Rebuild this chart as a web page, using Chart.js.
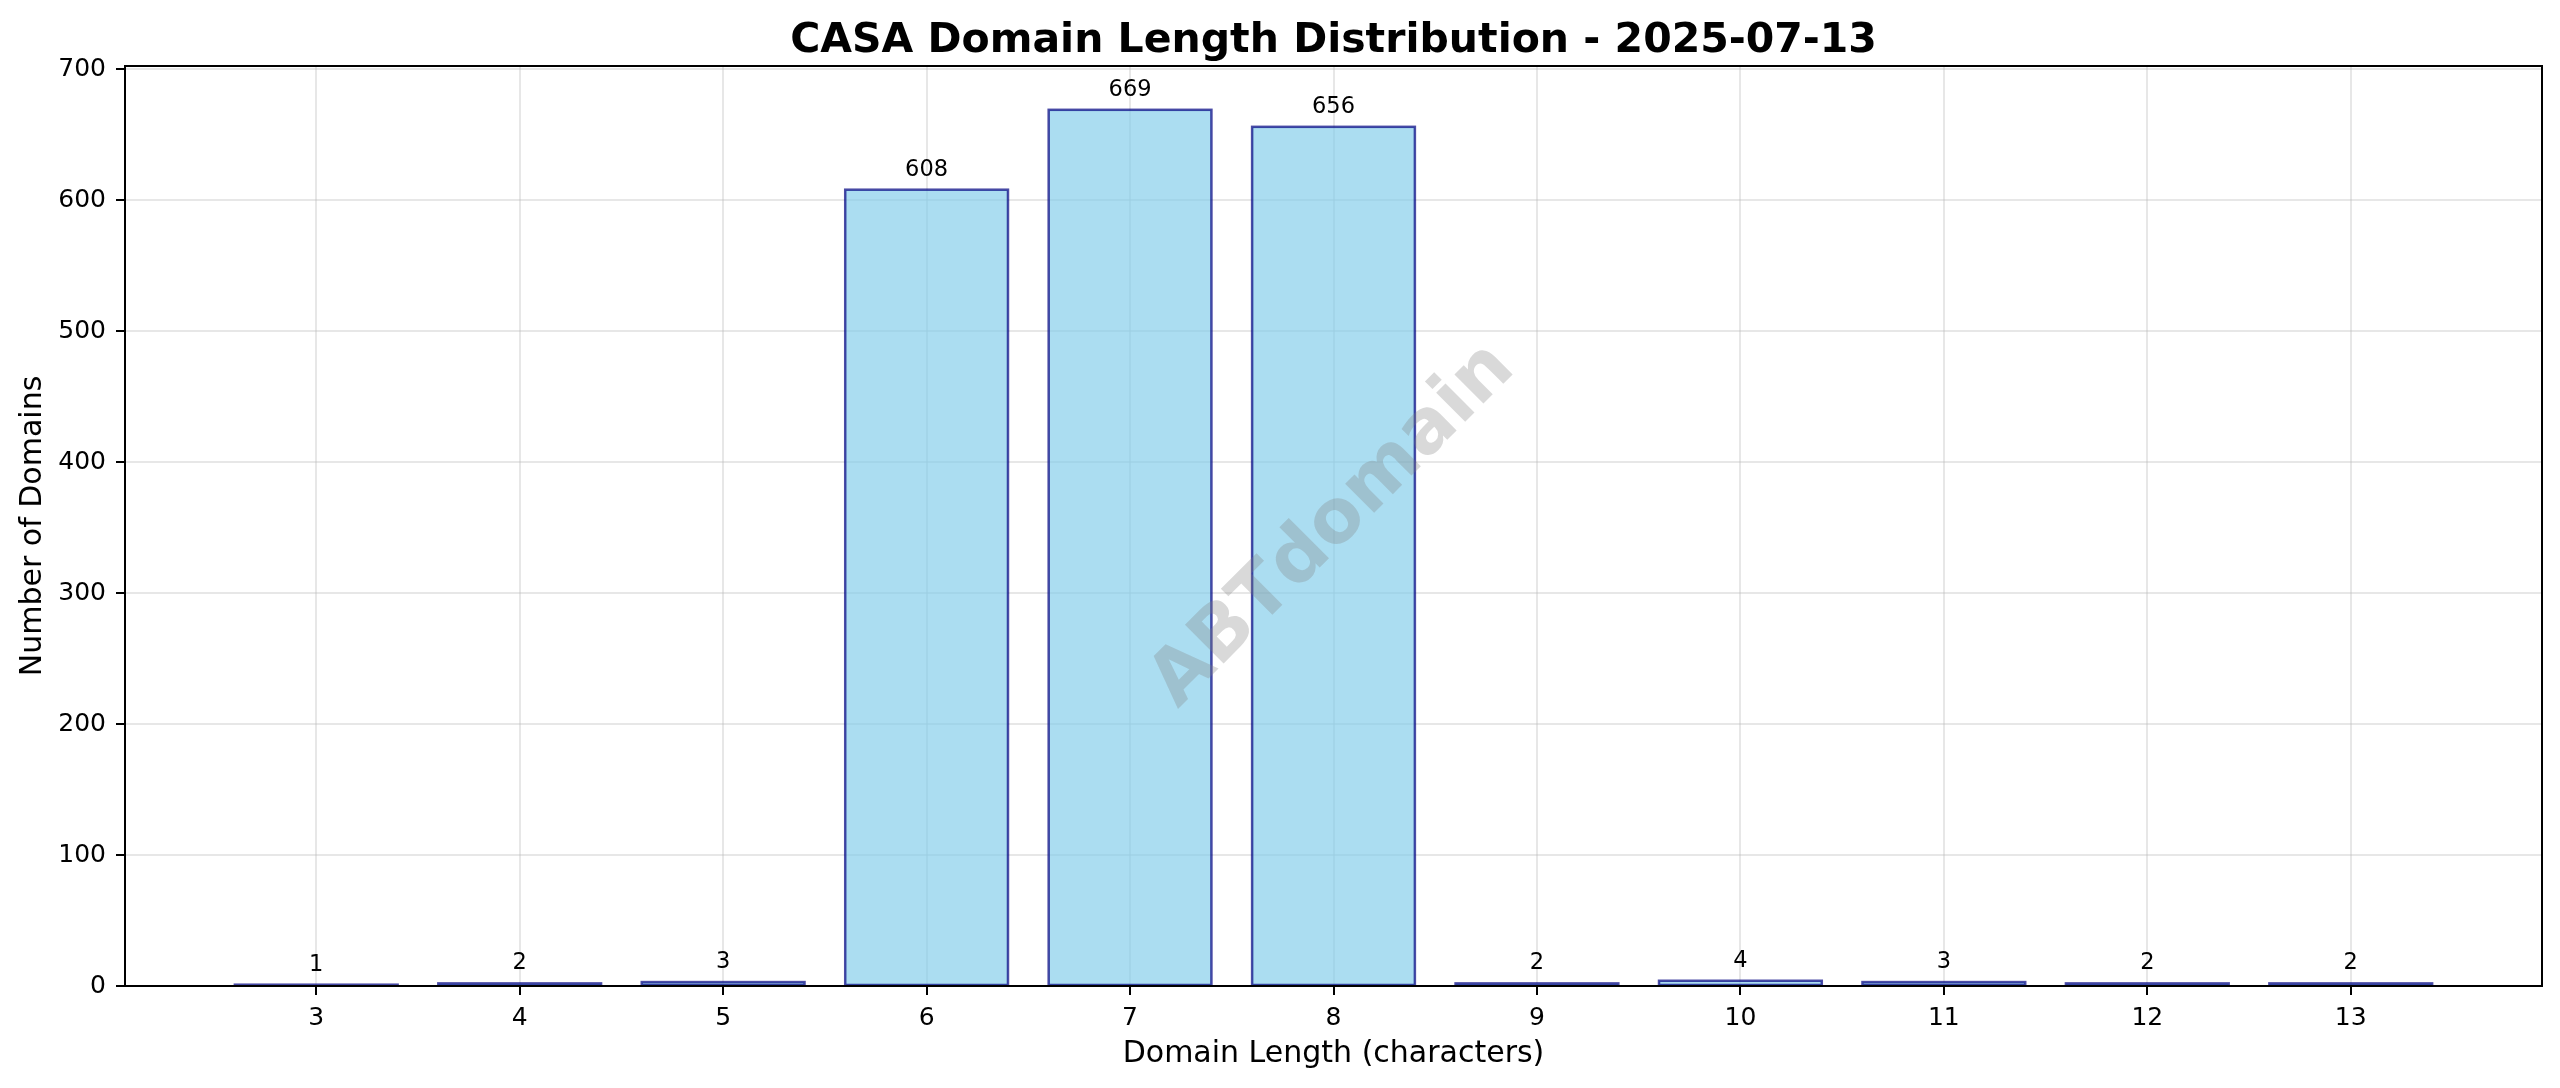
<!DOCTYPE html>
<html>
<head>
<meta charset="utf-8">
<title>CASA Domain Length Distribution</title>
<script src="https://cdn.jsdelivr.net/npm/chart.js@4.4.1/dist/chart.umd.min.js"></script>
<style>
  html, body { margin: 0; padding: 0; background: #fff; }
  #grafico { display: block; }
</style>
</head>
<body>
<canvas id="grafico" width="2560" height="1088"></canvas>
<script>
// datos
const longitudes = [3, 4, 5, 6, 7, 8, 9, 10, 11, 12, 13];
const dominios = [1, 2, 3, 608, 669, 656, 2, 4, 3, 2, 2];
const ticksY = [0, 100, 200, 300, 400, 500, 600, 700];
const titulo = 'CASA Domain Length Distribution - 2025-07-13';
const marcaAgua = 'ABTdomain';

// limites de ejes (margen 5% como matplotlib)
const limX = [2.06, 13.94];
const maxY = Math.max(...dominios) * 1.05;

const fuente = '"DejaVu Sans", sans-serif';
Chart.defaults.font.family = fuente;
Chart.defaults.color = '#000';

const colorGrid = 'rgba(176,176,176,0.3)';

// contornos, etiquetas de valor, marca de agua, marco y titulo
const extras = {
    id: 'extras',
    afterDatasetsDraw(chart) {
        const ctx = chart.ctx;
        const area = chart.chartArea;
        const meta = chart.getDatasetMeta(0);
        const y = chart.scales.y;
        const salto = Math.max(...dominios) * 0.01;
        const centroX = (area.left + area.right) / 2;

        ctx.save();
        // borde de cada barra centrado en el contorno
        ctx.lineWidth = 2.5;
        ctx.strokeStyle = 'rgba(0,0,128,0.7)';
        meta.data.forEach(el => {
            ctx.strokeRect(el.x - el.width / 2, el.y, el.width, el.base - el.y);
        });

        // valores encima de las barras
        ctx.fillStyle = '#000';
        ctx.font = '22.5px ' + fuente;
        ctx.textAlign = 'center';
        ctx.textBaseline = 'alphabetic';
        meta.data.forEach((el, i) => {
            const py = y.getPixelForValue(dominios[i] + salto) - 5.3;
            ctx.fillText(String(dominios[i]), el.x, py);
        });

        // marca de agua
        ctx.save();
        ctx.translate(centroX, (area.top + area.bottom) / 2);
        ctx.rotate(-Math.PI / 4);
        ctx.font = 'bold 75px ' + fuente;
        ctx.fillStyle = 'rgba(128,128,128,0.3)';
        ctx.textAlign = 'center';
        ctx.textBaseline = 'middle';
        ctx.fillText(marcaAgua, 0, 0);
        ctx.restore();

        // marco completo
        ctx.lineWidth = 2;
        ctx.strokeStyle = '#000';
        ctx.strokeRect(area.left, area.top, area.right - area.left, area.bottom - area.top);

        // titulo centrado sobre el area del grafico
        ctx.fillStyle = '#000';
        ctx.font = 'bold 41px ' + fuente;
        ctx.textAlign = 'center';
        ctx.textBaseline = 'alphabetic';
        ctx.fillText(titulo, centroX, area.top - 14);
        ctx.restore();
    }
};

const ctx = document.getElementById('grafico');

new Chart(ctx, {
    type: 'bar',
    data: {
        datasets: [{
            label: 'Domains',
            data: longitudes.map((l, i) => ({ x: l, y: dominios[i] })),
            backgroundColor: 'rgba(135,206,235,0.7)',
            borderWidth: 0,
            inflateAmount: 0,
            categoryPercentage: 1.0,
            barPercentage: 0.8
        }]
    },
    plugins: [extras],
    options: {
        responsive: false,
        devicePixelRatio: 1,
        animation: false,
        layout: { padding: { left: 0, right: 18, top: 66, bottom: 0 } },
        plugins: {
            legend: { display: false },
            tooltip: { enabled: false },
            title: { display: false }
        },
        scales: {
            x: {
                type: 'linear',
                min: limX[0],
                max: limX[1],
                offset: false,
                afterBuildTicks: s => { s.ticks = longitudes.map(v => ({ value: v })); },
                afterFit: s => { s.height = 102; },
                ticks: { font: { size: 25 }, color: '#000', padding: 8, autoSkip: false, maxRotation: 0 },
                grid: { color: colorGrid, lineWidth: 2, offset: false, tickColor: '#000', tickWidth: 2, tickLength: 9 },
                border: { color: '#000', width: 2 },
                title: {
                    display: true,
                    text: 'Domain Length (characters)',
                    color: '#000',
                    font: { size: 30, lineHeight: 1.2 },
                    padding: { top: 0, bottom: 16 }
                }
            },
            y: {
                min: 0,
                max: maxY,
                afterBuildTicks: s => { s.ticks = ticksY.map(v => ({ value: v })); },
                afterFit: s => { s.width = 125; },
                ticks: { font: { size: 25 }, color: '#000', padding: 10 },
                grid: { color: colorGrid, lineWidth: 2, tickColor: '#000', tickWidth: 2, tickLength: 9 },
                border: { color: '#000', width: 2 },
                title: {
                    display: true,
                    text: 'Number of Domains',
                    color: '#000',
                    font: { size: 30, lineHeight: 1.2 },
                    padding: { top: 15, bottom: 0 }
                }
            }
        }
    }
});
</script>
</body>
</html>
